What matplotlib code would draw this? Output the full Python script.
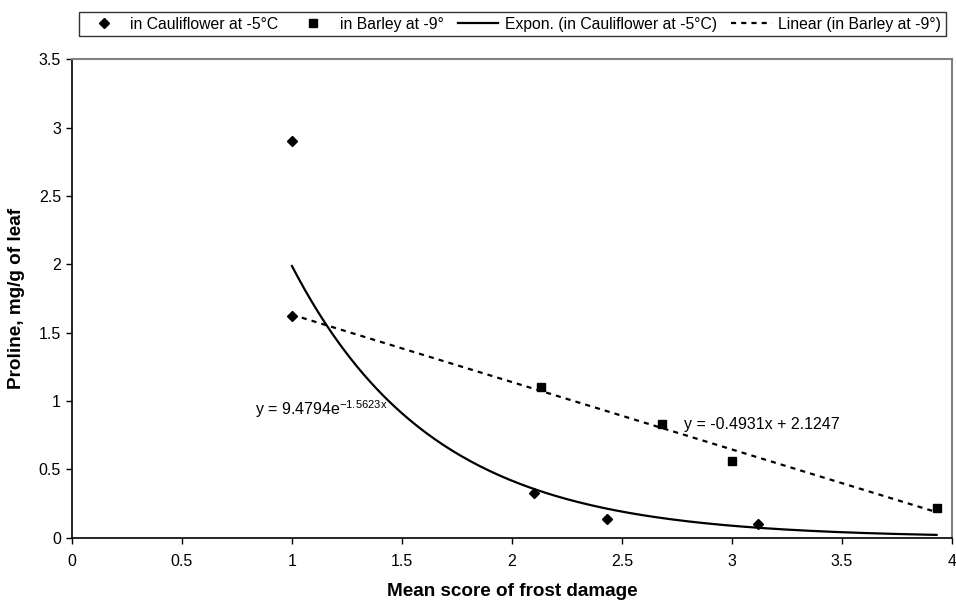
import numpy as np
import matplotlib
matplotlib.use("Agg")
import matplotlib.pyplot as plt

plt.rcParams['font.family'] = ['Liberation Sans', 'DejaVu Sans']
plt.rcParams['mathtext.fontset'] = 'custom'
plt.rcParams['mathtext.rm'] = 'Liberation Sans'
plt.rcParams['mathtext.it'] = 'Liberation Sans'

# measured points
caul_x = [1, 1, 2.1, 2.43, 3.12]
caul_y = [2.9, 1.62, 0.33, 0.14, 0.10]
barley_x = [2.13, 2.68, 3.0, 3.93]
barley_y = [1.1, 0.83, 0.56, 0.22]

# trendline coefficients as printed on the chart
exp_a, exp_b = 9.4794, -1.5623
lin_m, lin_c = -0.4931, 2.1247
trend_start, trend_end = 1, 3.93

xticks = [0, 0.5, 1, 1.5, 2, 2.5, 3, 3.5, 4]
yticks = [0, 0.5, 1, 1.5, 2, 2.5, 3, 3.5]

fig = plt.figure(figsize=(9.56, 6.04), dpi=100)
ax = fig.add_axes([0.0753, 0.1098, 0.9205, 0.792])

tx = np.linspace(trend_start, trend_end, 200)
ax.plot(barley_x, barley_y, 's', color='black', ms=6, zorder=3,
        label='in Barley at -9°')
ax.plot(caul_x, caul_y, 'D', color='black', ms=5, zorder=4,
        label='in Cauliflower at -5°C')
ax.plot(tx, exp_a * np.exp(exp_b * tx), '-', color='black', lw=1.6,
        label='Expon. (in Cauliflower at -5°C)')
ax.plot(tx, lin_m * tx + lin_c, color='black', lw=1.6, ls=(0, (2.3, 2.3)),
        label='Linear (in Barley at -9°)')

ax.text(0.83, 0.94, r'y = 9.4794e$^{\mathrm{-1.5623x}}$', fontsize=11.5,
        va='center', ha='left')
ax.text(2.78, 0.83, 'y = -0.4931x + 2.1247', fontsize=11.5,
        va='center', ha='left')

ax.set_xlim(0, 4)
ax.set_ylim(0, 3.5)
ax.set_xticks(xticks)
ax.set_xticklabels([f'{v:g}' for v in xticks])
ax.set_yticks(yticks)
ax.set_yticklabels([f'{v:g}' for v in yticks])
ax.tick_params(direction='out', length=4, width=1, labelsize=11.5, pad=4)
ax.tick_params(axis='x', pad=8)
for s in ['top', 'right']:
    ax.spines[s].set_color('#808080')
    ax.spines[s].set_linewidth(1.5)
for s in ['left', 'bottom']:
    ax.spines[s].set_linewidth(1.2)

ax.set_xlabel('Mean score of frost damage', fontsize=13.6, fontweight='bold',
              labelpad=10)
ax.set_ylabel('Proline, mg/g of leaf', fontsize=13.6, fontweight='bold',
              labelpad=10)

h, l = ax.get_legend_handles_labels()
order = [1, 0, 2, 3]
leg = fig.legend([h[i] for i in order], [l[i] for i in order], ncol=4,
                 loc='upper center', bbox_to_anchor=(0.5356, 0.993),
                 fontsize=11.3, frameon=True, fancybox=False, edgecolor='black',
                 handlelength=2.6, columnspacing=0.9, handletextpad=0.4,
                 borderpad=0.3)
leg.get_frame().set_linewidth(1.0)

fig.savefig('out.png', dpi=100)
